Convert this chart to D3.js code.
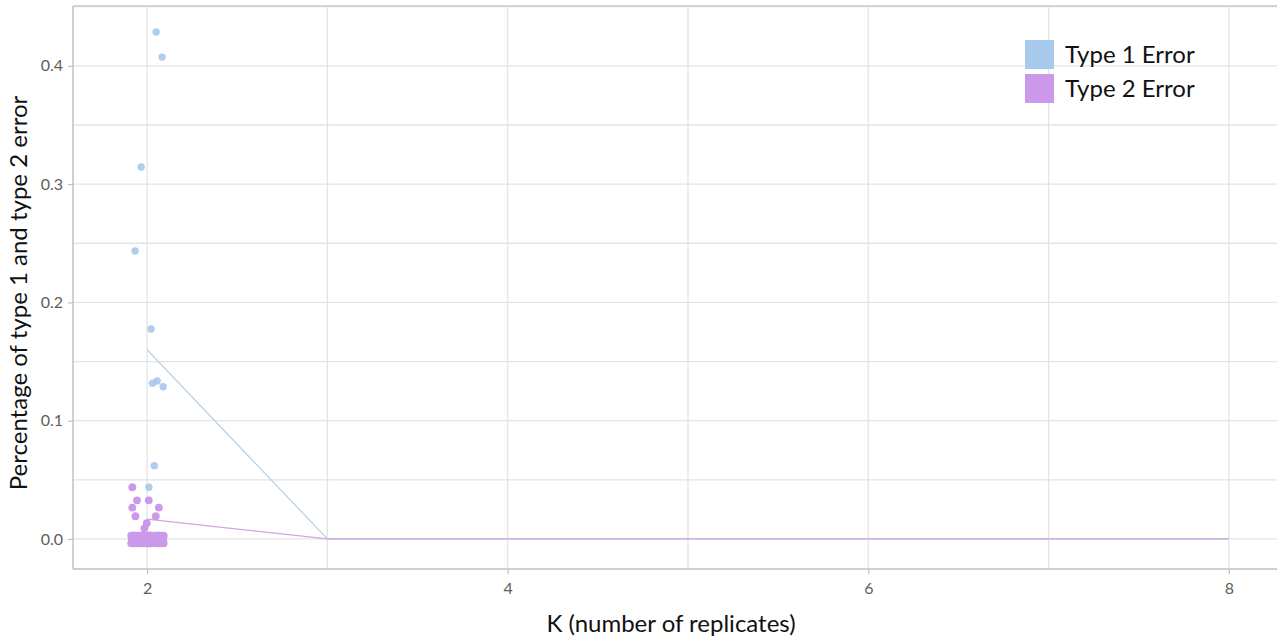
<!DOCTYPE html>
<html><head><meta charset="utf-8">
<script src="https://cdn.jsdelivr.net/npm/d3@7"></script>
<style>body{margin:0;background:#fff}svg{display:block}</style>
</head><body><svg id="c" width="1283" height="640"></svg>
<script>
// ---- data ----
const seriesNames = ["Type 1 Error", "Type 2 Error"];
const kValues = [2, 3, 4, 5, 6, 7, 8];
const type1Mean = [0.160, 0, 0, 0, 0, 0, 0];
const type2Mean = [0.0167, 0, 0, 0, 0, 0, 0];
// jittered points at K = 2
const type1X = [2.05, 2.083, 1.967, 1.933, 2.022, 2.03, 2.056, 2.089, 2.04, 2.01, 1.95, 2.0, 2.05, 1.98, 2.07];
const type1Y = [0.4286, 0.4074, 0.3145, 0.2434, 0.1775, 0.1316, 0.1336, 0.1287, 0.062, 0.0437, 0.0, 0.0, 0.0, 0.001, -0.001];
const type2X = [1.918, 1.944, 2.009, 1.918, 2.065, 1.935, 2.048, 1.998, 1.985,
  1.912, 1.925, 1.94, 1.955, 1.97, 1.985, 2.0, 2.015, 2.03, 2.045, 2.06, 2.075, 2.092,
  1.912, 1.925, 1.94, 1.955, 1.97, 1.985, 2.0, 2.015, 2.03, 2.045, 2.06, 2.075, 2.092,
  1.915, 1.93, 1.945, 1.96, 1.975, 1.99, 2.005, 2.02, 2.035, 2.05, 2.065, 2.08, 2.09];
const type2Y = [0.0437, 0.0327, 0.0327, 0.0265, 0.0265, 0.0192, 0.0192, 0.0133, 0.009,
  0.0028, 0.003, 0.0029, 0.0027, 0.0031, 0.0032, 0.0029, 0.003, 0.0028, 0.0029, 0.0031, 0.0028, 0.0027,
  -0.0036, -0.0038, -0.0037, -0.0035, -0.0038, -0.0036, -0.0037, -0.0038, -0.0036, -0.0035, -0.0037, -0.0038, -0.0036,
  0.0, 0.0002, -0.0003, 0.0001, 0.0, -0.0002, 0.0003, 0.0, -0.0001, 0.0002, 0.0, -0.0002, 0.0001];
const xTicks = [2, 4, 6, 8];
const xMinor = [3, 5, 7];
const yTicks = [0.0, 0.1, 0.2, 0.3, 0.4];
const yMinor = [0.05, 0.15, 0.25, 0.35, 0.45];

// ---- layout ----
const L = 73, R = 1277, T = 6, B = 569;
const colors = ["#a6c9ec", "#cc99ea"];
const lineColors = ["#bcd1e3", "#cfa6e2"];
const svg = d3.select("#c");
const x = d3.scaleLinear().domain([1.589, 8.267]).range([L, R]);
const y = d3.scaleLinear().domain([-0.0254, 0.4506]).range([B, T]);

const grid = svg.append("g");
grid.selectAll(".gx").data(xTicks.concat(xMinor)).join("line")
  .attr("x1", d => x(d)).attr("x2", d => x(d)).attr("y1", T).attr("y2", B)
  .attr("stroke", "#e3e3e3").attr("stroke-width", 1.3);
grid.selectAll(".gy").data(yTicks.concat(yMinor)).join("line")
  .attr("y1", d => y(d)).attr("y2", d => y(d)).attr("x1", L).attr("x2", R)
  .attr("stroke", "#e3e3e3").attr("stroke-width", 1.3);

// panel border lines (top, left, bottom)
svg.append("line").attr("x1", L).attr("x2", R).attr("y1", T).attr("y2", T).attr("stroke", "#c8c8c8").attr("stroke-width", 1.5);

const xAxis = svg.append("g").attr("transform", `translate(0,${B})`)
  .call(d3.axisBottom(x).tickValues(xTicks).tickFormat(d3.format("d")).tickSize(5).tickPadding(9));
const yAxis = svg.append("g").attr("transform", `translate(${L},0)`)
  .call(d3.axisLeft(y).tickValues(yTicks).tickFormat(d3.format(".1f")).tickSize(5).tickPadding(5));
[xAxis, yAxis].forEach(a => {
  a.select(".domain").attr("stroke", "#c0c0c0").attr("stroke-width", 1.5);
  a.selectAll(".tick line").attr("stroke", "#c0c0c0").attr("stroke-width", 1.2);
  a.selectAll(".tick text").attr("fill", "#5e5e5e").style("font-family", "Lato, sans-serif").style("font-size", "16px");
});
yAxis.select(".domain").attr("d", `M-0,${T}V${B}`);
xAxis.select(".domain").attr("d", `M${L},0H${R}`);

// mean lines
const line = d3.line().x((d, i) => x(kValues[i])).y(d => y(d));
svg.append("path").datum(type1Mean).attr("d", line).attr("fill", "none").attr("stroke", lineColors[0]).attr("stroke-width", 1.3);
svg.append("path").datum(type2Mean).attr("d", line).attr("fill", "none").attr("stroke", lineColors[1]).attr("stroke-width", 1.3);

// points
svg.append("g").selectAll("circle").data(type1X).join("circle")
  .attr("cx", d => x(d)).attr("cy", (d, i) => y(type1Y[i])).attr("r", 3.7)
  .attr("fill", colors[0]).attr("fill-opacity", 0.9);
svg.append("g").selectAll("circle").data(type2X).join("circle")
  .attr("cx", d => x(d)).attr("cy", (d, i) => y(type2Y[i])).attr("r", 3.9)
  .attr("fill", colors[1]);

// axis titles
svg.append("text").attr("x", 671).attr("y", 632).attr("text-anchor", "middle")
  .style("font-family", "Lato, sans-serif").style("font-size", "24px").attr("fill", "#111")
  .text("K (number of replicates)");
svg.append("text").attr("transform", `translate(27,293) rotate(-90)`).attr("text-anchor", "middle")
  .style("font-family", "Lato, sans-serif").style("font-size", "24px").attr("fill", "#111")
  .text("Percentage of type 1 and type 2 error");

// legend
const lg = svg.append("g").attr("transform", "translate(1025,40)");
seriesNames.forEach((n, i) => {
  lg.append("rect").attr("x", 0).attr("y", i * 34).attr("width", 29).attr("height", 29).attr("fill", colors[i]);
  lg.append("text").attr("x", 40).attr("y", i * 34 + 23)
    .style("font-family", "Lato, sans-serif").style("font-size", "24px").attr("fill", "#111").text(n);
});
</script></body></html>
